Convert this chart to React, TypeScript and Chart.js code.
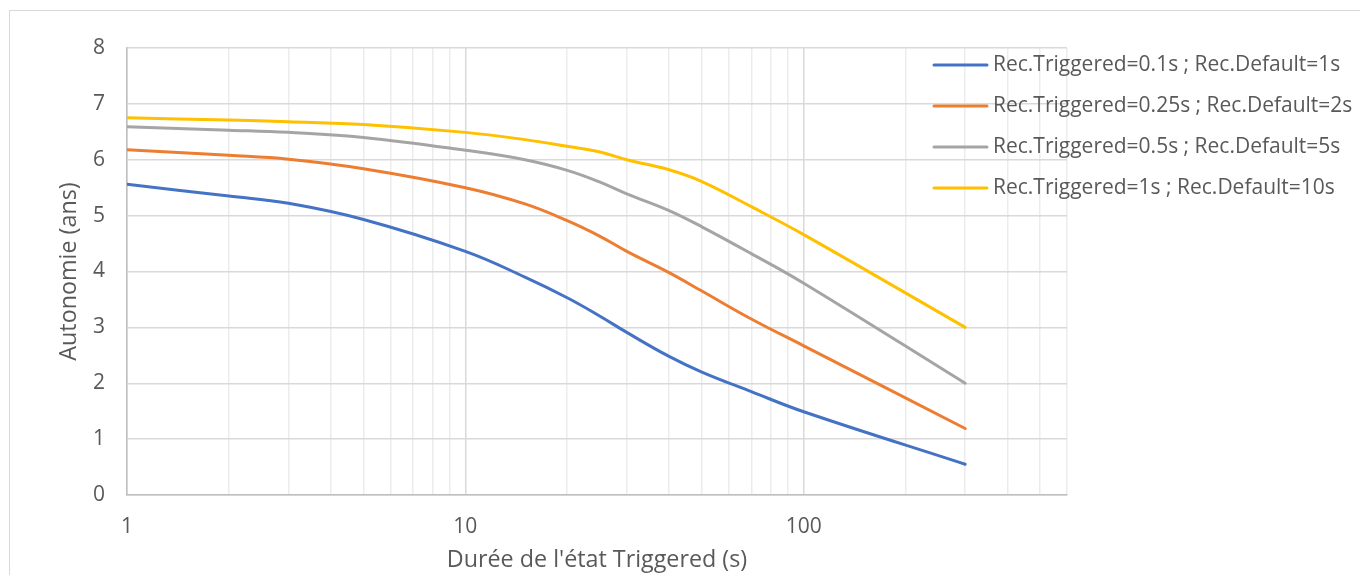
import React, { useEffect, useRef } from "react";
import { Chart, registerables } from "chart.js";

Chart.register(...registerables);

// ---- data ----
const durations = [1, 2, 3, 5, 10, 15, 20, 25, 30, 40, 50, 70, 100, 300];

const seriesLabels = [
  "Rec.Triggered=0.1s ; Rec.Default=1s",
  "Rec.Triggered=0.25s ; Rec.Default=2s",
  "Rec.Triggered=0.5s ; Rec.Default=5s",
  "Rec.Triggered=1s ; Rec.Default=10s",
];

const blueValues = [5.56, 5.35, 5.22, 4.93, 4.36, 3.9, 3.53, 3.2, 2.91, 2.48, 2.2, 1.85, 1.49, 0.55];
const orangeValues = [6.18, 6.08, 6.01, 5.84, 5.5, 5.21, 4.91, 4.63, 4.36, 3.98, 3.65, 3.15, 2.67, 1.19];
const grayValues = [6.59, 6.53, 6.49, 6.4, 6.17, 6.0, 5.81, 5.6, 5.39, 5.09, 4.8, 4.32, 3.79, 2.0];
const yellowValues = [6.75, 6.71, 6.68, 6.63, 6.49, 6.36, 6.24, 6.14, 6.0, 5.82, 5.61, 5.16, 4.66, 3.0];

const seriesValues = [blueValues, orangeValues, grayValues, yellowValues];
const seriesColors = ["#4472C4", "#ED7D31", "#A5A5A5", "#FFC000"];

const xLabeledTicks = [1, 10, 100];
const xMin = 1;
const xMax = 600;
const yTicks = [0, 1, 2, 3, 4, 5, 6, 7, 8];

const xTitle = "Durée de l'état Triggered (s)";
const yTitle = "Autonomie (ans)";

const FONT = "'Open Sans', sans-serif";
const TEXT_COLOR = "#595959";
const LABEL_SIZE = 21;
const TITLE_SIZE = 23.3;

export default function App() {
  const canvasRef = useRef<HTMLCanvasElement | null>(null);

  useEffect(() => {
    if (!canvasRef.current) return;
    Chart.defaults.font.family = FONT;

    const overlayLegend = {
      id: "overlayLegend",
      afterDraw(chart: any) {
        const { ctx, chartArea } = chart;
        ctx.save();
        ctx.font = `${LABEL_SIZE}px ${FONT}`;
        ctx.textBaseline = "middle";
        ctx.textAlign = "left";
        chart.data.datasets.forEach((ds: any, i: number) => {
          const y = chartArea.top + 17 + i * 41;
          const x0 = chartArea.right - 133;
          ctx.strokeStyle = ds.borderColor;
          ctx.lineWidth = 3;
          ctx.lineCap = "round";
          ctx.beginPath();
          ctx.moveTo(x0, y);
          ctx.lineTo(x0 + 53, y);
          ctx.stroke();
          ctx.fillStyle = TEXT_COLOR;
          ctx.fillText(ds.label, x0 + 59, y);
        });
        ctx.restore();
      },
    };

    const datasets = seriesLabels.map((label, i) => ({
      label,
      data: durations.map((d, j) => ({ x: d, y: seriesValues[i][j] })),
      borderColor: seriesColors[i],
      backgroundColor: seriesColors[i],
      borderWidth: 3,
      pointRadius: 0,
      fill: false,
      tension: 0.4,
      borderCapStyle: "round" as const,
      borderJoinStyle: "round" as const,
    }));

    const chart = new Chart(canvasRef.current, {
      type: "line",
      data: { datasets },
      plugins: [overlayLegend],
      options: {
        animation: false,
        responsive: false,
        devicePixelRatio: 1,
        layout: { padding: { left: 0, top: 48, right: 293, bottom: 0 } },
        plugins: {
          legend: { display: false },
          tooltip: { enabled: false },
        },
        scales: {
          x: {
            type: "logarithmic",
            min: xMin,
            max: xMax,
            afterBuildTicks: (scale: any) => {
              const vals: number[] = [];
              for (let dec = 1; dec <= xMax; dec *= 10) {
                for (let m = 1; m <= 9; m++) {
                  const v = m * dec;
                  if (v >= xMin && v <= xMax) vals.push(v);
                }
              }
              scale.ticks = vals.map((v) => ({ value: v }));
            },
            afterFit: (scale: any) => {
              scale.height = 80;
            },
            ticks: {
              autoSkip: false,
              maxRotation: 0,
              minRotation: 0,
              padding: 19,
              color: TEXT_COLOR,
              font: { size: LABEL_SIZE, family: FONT },
              callback: (v: any) => (xLabeledTicks.includes(Number(v)) ? String(v) : ""),
            },
            grid: {
              drawTicks: false,
              lineWidth: 1.5,
              color: (ctx: any) =>
                ctx.tick && xLabeledTicks.includes(ctx.tick.value) ? "#d9d9d9" : "#ececec",
            },
            border: { color: "#bfbfbf", width: 1.5 },
            title: {
              display: true,
              text: xTitle,
              color: TEXT_COLOR,
              font: { size: TITLE_SIZE, family: FONT },
              padding: { top: 0, bottom: 1 },
            },
          },
          y: {
            type: "linear",
            min: yTicks[0],
            max: yTicks[yTicks.length - 1],
            afterFit: (scale: any) => {
              scale.width = 127;
            },
            ticks: {
              stepSize: 1,
              padding: 22,
              color: TEXT_COLOR,
              font: { size: LABEL_SIZE, family: FONT },
            },
            grid: { drawTicks: false, lineWidth: 1.5, color: "#d9d9d9" },
            border: { color: "#bfbfbf", width: 1.5 },
            title: {
              display: true,
              text: yTitle,
              color: TEXT_COLOR,
              font: { size: TITLE_SIZE, family: FONT },
              padding: { top: 55, bottom: 0 },
            },
          },
        },
      },
    });

    return () => chart.destroy();
  }, []);

  return (
    <div
      style={{
        position: "fixed",
        left: 0,
        top: 0,
        width: 1360,
        height: 575,
        background: "#ffffff",
        overflow: "hidden",
      }}
    >
      <div
        style={{
          position: "absolute",
          left: 9,
          top: 10,
          width: 1351,
          height: 565,
          borderLeft: "1px solid #d9d9d9",
          borderTop: "1px solid #d9d9d9",
          boxSizing: "border-box",
        }}
      />
      <canvas
        ref={canvasRef}
        width={1360}
        height={575}
        style={{ position: "absolute", left: 0, top: 0, width: 1360, height: 575 }}
      />
    </div>
  );
}
